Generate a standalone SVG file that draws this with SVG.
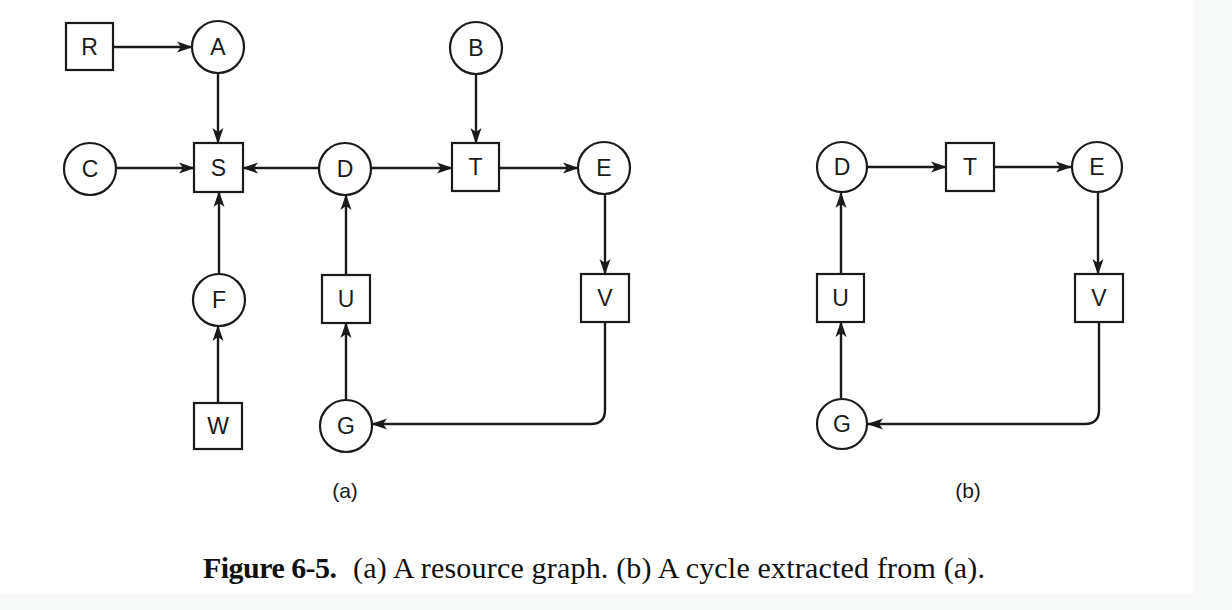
<svg xmlns="http://www.w3.org/2000/svg" width="1232" height="610" viewBox="0 0 1232 610">
  <style>
    .node rect, .node circle { fill: #ffffff; stroke: #1a1a1a; stroke-width: 2.2; }
    .node text { font-family: "Liberation Sans", Arial, sans-serif; font-size: 23px; fill: #1a1a1a; text-anchor: middle; dominant-baseline: central; }
    .edges path { fill: none; stroke: #1a1a1a; stroke-width: 2.4; marker-end: url(#arrow); }
    .sub { font-family: "Liberation Sans", Arial, sans-serif; font-size: 21px; fill: #1a1a1a; text-anchor: middle; }
    .cap { font-family: "Liberation Serif", "Times New Roman", serif; font-size: 30px; fill: #111; }
  </style>
  <defs>
    <marker id="arrow" markerUnits="userSpaceOnUse" markerWidth="16" markerHeight="12" refX="15" refY="6" orient="auto">
      <path d="M0,0.5 L16,6 L0,11.5 L4,6 Z" fill="#1a1a1a"/>
    </marker>
  </defs>
  <rect x="0" y="0" width="1232" height="610" fill="#ffffff"/>
  <rect x="1194" y="0" width="38" height="610" fill="#f8f9f9"/>
  <rect x="0" y="594" width="1232" height="16" fill="#f8f9f9"/>

  <g class="edges" id="connectors">
    <path d="M113,47 H192"/>
    <path d="M218,73 V143"/>
    <path d="M116,168 H194"/>
    <path d="M319,168 H243"/>
    <path d="M371,168 H452"/>
    <path d="M476,74 V143"/>
    <path d="M499,168 H578"/>
    <path d="M605,194 V274"/>
    <path d="M219,274 V192"/>
    <path d="M218,403 V326"/>
    <path d="M346,275 V195"/>
    <path d="M346,400 V323"/>
    <path d="M605,322 V410 Q605,424 591,424 H372"/>

    <path d="M868,167 H946"/>
    <path d="M994,167 H1071"/>
    <path d="M1098,193 V274"/>
    <path d="M841,274 V193"/>
    <path d="M841,398 V322"/>
    <path d="M1099,322 V410 Q1099,424 1085,424 H868"/>
  </g>

  <g class="node" id="a-R"><rect x="66" y="23" width="47" height="47"/><text x="89.5" y="47">R</text></g>
  <g class="node" id="a-A"><circle cx="218" cy="47" r="26"/><text x="218" y="47">A</text></g>
  <g class="node" id="a-B"><circle cx="476" cy="48" r="26"/><text x="476" y="48">B</text></g>
  <g class="node" id="a-C"><circle cx="90" cy="169" r="26"/><text x="90" y="169">C</text></g>
  <g class="node" id="a-S"><rect x="194" y="143" width="49" height="49"/><text x="218.5" y="168">S</text></g>
  <g class="node" id="a-D"><circle cx="345" cy="169" r="26"/><text x="345" y="169">D</text></g>
  <g class="node" id="a-T"><rect x="452" y="143" width="47" height="48"/><text x="475.5" y="167">T</text></g>
  <g class="node" id="a-E"><circle cx="604" cy="168" r="26"/><text x="604" y="168">E</text></g>
  <g class="node" id="a-F"><circle cx="219" cy="300" r="26"/><text x="219" y="300">F</text></g>
  <g class="node" id="a-U"><rect x="322" y="275" width="48" height="48"/><text x="346" y="299">U</text></g>
  <g class="node" id="a-V"><rect x="581" y="274" width="48" height="48"/><text x="605" y="298">V</text></g>
  <g class="node" id="a-W"><rect x="194" y="403" width="48" height="46"/><text x="218" y="426">W</text></g>
  <g class="node" id="a-G"><circle cx="346" cy="426" r="26"/><text x="346" y="426">G</text></g>

  <g class="node" id="b-D"><circle cx="842" cy="167" r="25"/><text x="842" y="167">D</text></g>
  <g class="node" id="b-T"><rect x="946" y="143" width="48" height="48"/><text x="970" y="167">T</text></g>
  <g class="node" id="b-E"><circle cx="1097" cy="167" r="25"/><text x="1097" y="167">E</text></g>
  <g class="node" id="b-U"><rect x="817" y="274" width="47" height="48"/><text x="840.5" y="298">U</text></g>
  <g class="node" id="b-V"><rect x="1075" y="274" width="48" height="48"/><text x="1099" y="298">V</text></g>
  <g class="node" id="b-G"><circle cx="842" cy="424" r="25"/><text x="842" y="424">G</text></g>

  <text class="sub" x="345" y="498">(a)</text>
  <text class="sub" x="968" y="498">(b)</text>

  <text class="cap" y="578"><tspan x="203" font-weight="bold" textLength="134">Figure 6-5.</tspan><tspan x="353" textLength="632">(a) A resource graph. (b) A cycle extracted from (a).</tspan></text>
</svg>
